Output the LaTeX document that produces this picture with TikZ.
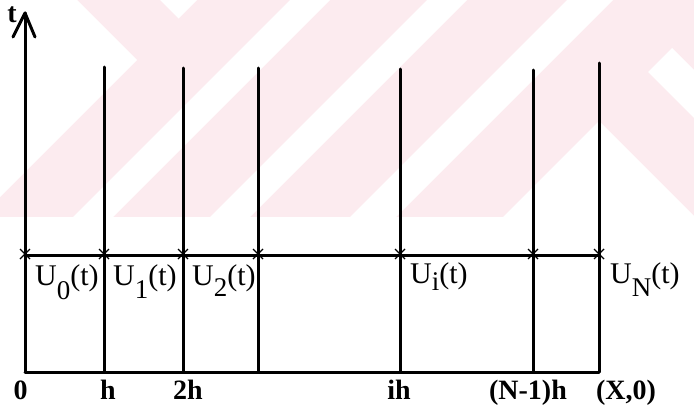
\documentclass[tikz,border=0pt]{standalone}
\usepackage{fontspec}
\setmainfont{Liberation Serif}
\usepackage{xcolor}
\usetikzlibrary{arrows.meta, positioning, calc}

\definecolor{wmpink}{RGB}{252,235,239}

\newcommand{\Ulab}[2]{U\raisebox{-#2pt}{\fontsize{27}{27}\selectfont #1}(t)}
\newcommand{\crossat}[1]{\draw[crossmark] ($(#1)+(-5,-6)$) -- ($(#1)+(5,4)$) ($(#1)+(-5,4)$) -- ($(#1)+(5,-6)$);}

\begin{document}
\begin{tikzpicture}[
    x=1pt, y=-1pt,
    gridline/.style={line width=3pt, black, line cap=round},
    crossmark/.style={line width=1.4pt, black},
    ulabel/.style={anchor=base west, inner sep=0pt, font=\fontsize{30}{30}\selectfont},
    xlabel/.style={anchor=base, inner sep=0pt, font=\fontsize{28}{28}\selectfont\bfseries},
]

\useasboundingbox (0,0) rectangle (694,415);

% ── Watermark ──
\fill[wmpink] (0,0) rectangle (694,217);
\fill[white] (0,0) -- (77,0) -- (137,60) -- (0,197) -- cycle;
\fill[white] (160,0) -- (197,0) -- (178.5,18.5) -- cycle;
\fill[white] (290,0) -- (330,0) -- (113,217) -- (73,217) -- cycle;
\fill[white] (427,0) -- (467,0) -- (250,217) -- (210,217) -- cycle;
\fill[white] (567,0) -- (613,0) -- (396,217) -- (350,217) -- cycle;
\fill[white] (503,217) -- (599,121) -- (694,216) -- (694,217) -- cycle;
\fill[white] (648,72) -- (672,48) -- (694,70) -- (694,118) -- cycle;

% ── Grid points ──
\coordinate (col0-top) at (25,13);  \coordinate (col0-mid) at (25,255);  \coordinate (col0-bot) at (25,372);
\coordinate (col1-top) at (104,67); \coordinate (col1-mid) at (104,255); \coordinate (col1-bot) at (104,372);
\coordinate (col2-top) at (183,68); \coordinate (col2-mid) at (183,255); \coordinate (col2-bot) at (183,372);
\coordinate (col3-top) at (258,68); \coordinate (col3-mid) at (258,255); \coordinate (col3-bot) at (258,372);
\coordinate (coli-top) at (400,69); \coordinate (coli-mid) at (400,255); \coordinate (coli-bot) at (400,372);
\coordinate (colm-top) at (533,70); \coordinate (colm-mid) at (533,255); \coordinate (colm-bot) at (533,372);
\coordinate (colN-top) at (599,63); \coordinate (colN-mid) at (599,255); \coordinate (colN-bot) at (599,372);

% ── Time axis ──
\draw[gridline] (col0-bot) -- (col0-top);
\draw[gridline, line join=round] ($(col0-top)+(-12,24)$) -- (col0-top) -- ($(col0-top)+(10,24)$);
\node[xlabel] (tlab) at (12,22) {t};

% ── Vertical lines ──
\draw[gridline] (col1-bot) -- (col1-top);
\draw[gridline] (col2-bot) -- (col2-top);
\draw[gridline] (col3-bot) -- (col3-top);
\draw[gridline] (coli-bot) -- (coli-top);
\draw[gridline] (colm-bot) -- (colm-top);
\draw[gridline] (colN-bot) -- (colN-top);

% ── Horizontal lines ──
\draw[gridline] (col0-mid) -- (colN-mid);
\draw[gridline] (col0-bot) -- (colN-bot);

% ── Crosses ──
\crossat{col0-mid}
\crossat{col1-mid}
\crossat{col2-mid}
\crossat{col3-mid}
\crossat{coli-mid}
\crossat{colm-mid}
\crossat{colN-mid}

% ── Unknowns ──
\node[ulabel] (u0) at (35,285) {\Ulab{0}{14}};
\node[ulabel] (u1) at (113,285) {\Ulab{1}{13}};
\node[ulabel] (u2) at (192,285) {\Ulab{2}{11}};
\node[ulabel] (ui) at (410,283) {\Ulab{i}{7}};
\node[ulabel] (uN) at (610,283) {\Ulab{N}{13}};

% ── Abscissae ──
\node[xlabel] (x0) at (20.5,399) {0};
\node[xlabel] (x1) at (108,399) {h};
\node[xlabel] (x2) at (188,399) {2h};
\node[xlabel] (xi) at (399,399) {ih};
\node[xlabel] (xm) at (528,399) {(N-1)h};
\node[xlabel] (xN) at (626,399) {(X,0)};

\end{tikzpicture}
\end{document}
